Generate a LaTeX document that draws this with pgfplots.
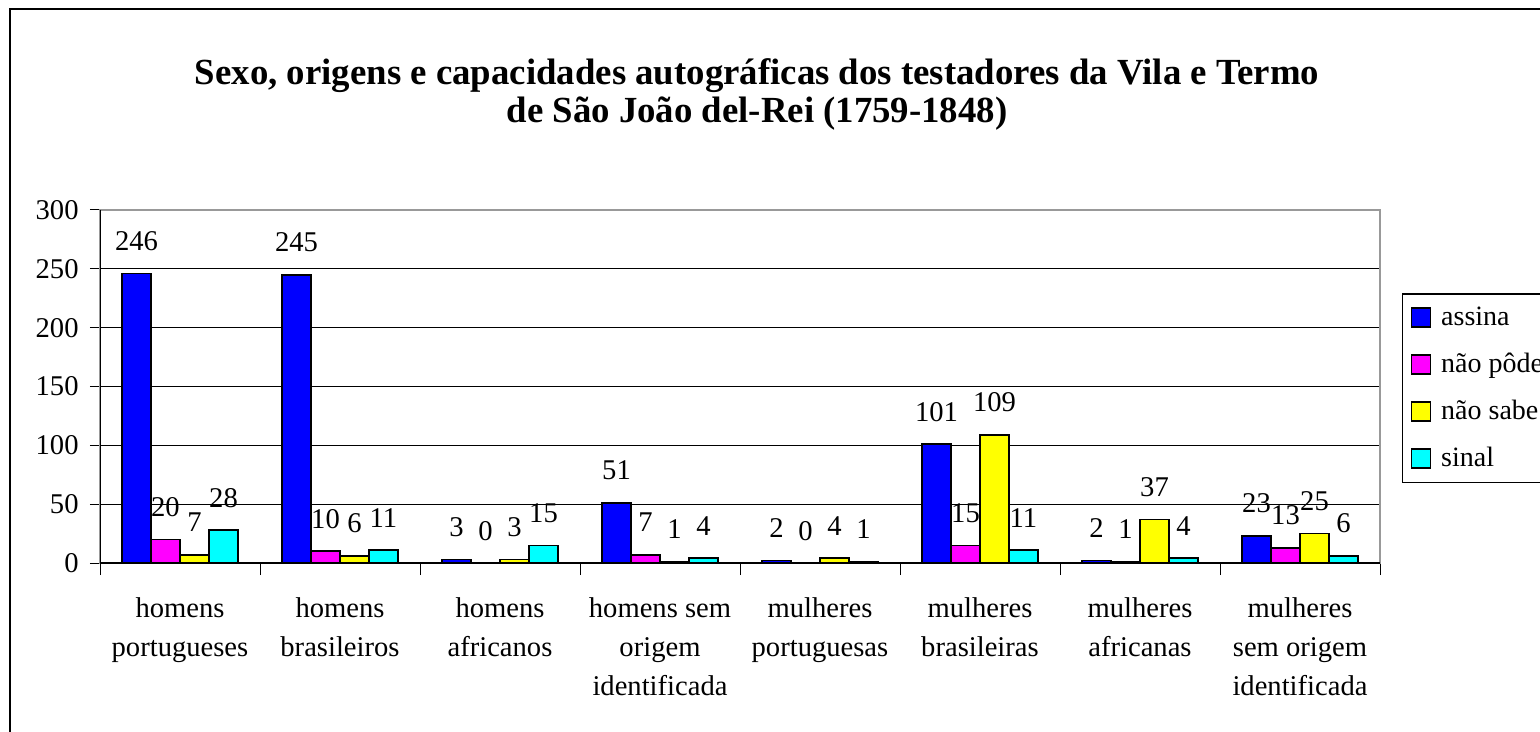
\documentclass[border=0pt]{standalone}
\usepackage{fontspec}
\setmainfont{Liberation Serif}
\usepackage{pgfplots}
\pgfplotsset{compat=1.18}
\definecolor{cblue}{RGB}{0,0,255}
\definecolor{cmag}{RGB}{255,0,255}
\definecolor{cyel}{RGB}{255,255,0}
\definecolor{ccya}{RGB}{0,255,255}
\begin{document}
\begin{tikzpicture}[x=1pt,y=1pt]
\draw[line width=0.8pt] (5pt,-4.5pt) rectangle (820pt,-420pt);
\node[font=\fontsize{18.4}{20}\selectfont\bfseries, anchor=base] at (378.5pt,-42.5pt) {Sexo, origens e capacidades autográficas dos testadores da Vila e Termo};
\node[font=\fontsize{18.4}{20}\selectfont\bfseries, anchor=base] at (378.5pt,-61.5pt) {de São João del-Rei (1759-1848)};
\begin{axis}[
  at={(50pt,-281.5pt)}, anchor=south west,
  scale only axis, width=640pt, height=176.5pt,
  ybar=0pt, bar width=14.5pt,
  xmin=-0.5, xmax=7.5, ymin=0, ymax=300,
  ytick={0,50,...,300},
  xtick={0,...,7},
  minor xtick={-0.5,0.5,...,7.5},
  xticklabels={{homens\\portugueses},{homens\\brasileiros},{homens\\africanos},{homens sem\\origem\\identificada},{mulheres\\portuguesas},{mulheres\\brasileiras},{mulheres\\africanas},{mulheres\\sem origem\\identificada}},
  tick pos=left, tick align=outside,
  major tick length=5pt, minor tick length=6pt,
  major x tick style={draw=none},
  minor x tick style={draw=black, line width=0.5pt},
  major y tick style={draw=black, line width=0.5pt},
  axis line style={draw=gray!80, line width=0.8pt},
  ymajorgrids, major grid style={black, line width=0.5pt},
  /pgf/number format/assume math mode=true,
  ticklabel style={font=\fontsize{14.3}{19.6}\selectfont},
  yticklabel style={anchor=east, inner sep=0pt, xshift=-5.5pt},
  xticklabel style={align=center, anchor=north, inner sep=0pt, yshift=-12pt},
  nodes near coords,
  every node near coord/.append style={anchor=base, yshift=11.5pt, inner sep=0pt, text=black, font=\fontsize{14.3}{16}\selectfont},
  legend style={at={(1.0172,0.7705)}, anchor=north west, draw=black, line width=0.6pt, font=\fontsize{14}{16}\selectfont, row sep=8.3pt, inner xsep=4pt, inner ysep=4.5pt, yshift=-1.2pt, cells={anchor=west}, /tikz/column sep=3pt},
  legend image code/.code={\draw[#1,draw=black,line width=0.8pt] (0pt,-4.75pt) rectangle (9.5pt,4.75pt);},
]
\addplot[fill=cblue, draw=black, line width=0.8pt] coordinates {(0,246) (1,245) (2,3) (3,51) (4,2) (5,101) (6,2) (7,23)};
\addplot[fill=cmag, draw=black, line width=0.8pt] coordinates {(0,20) (1,10) (2,0) (3,7) (4,0) (5,15) (6,1) (7,13)};
\addplot[fill=cyel, draw=black, line width=0.8pt] coordinates {(0,7) (1,6) (2,3) (3,1) (4,4) (5,109) (6,37) (7,25)};
\addplot[fill=ccya, draw=black, line width=0.8pt] coordinates {(0,28) (1,11) (2,15) (3,4) (4,1) (5,11) (6,4) (7,6)};
\legend{assina,não pôde\hspace*{15pt},não sabe,sinal}
\draw[black, line width=0.8pt] (rel axis cs:0,1) -- (rel axis cs:0,0) -- (rel axis cs:1,0);
\end{axis}
\pgfresetboundingbox
\useasboundingbox (0,0) rectangle (770pt,-366pt);
\end{tikzpicture}
\end{document}
